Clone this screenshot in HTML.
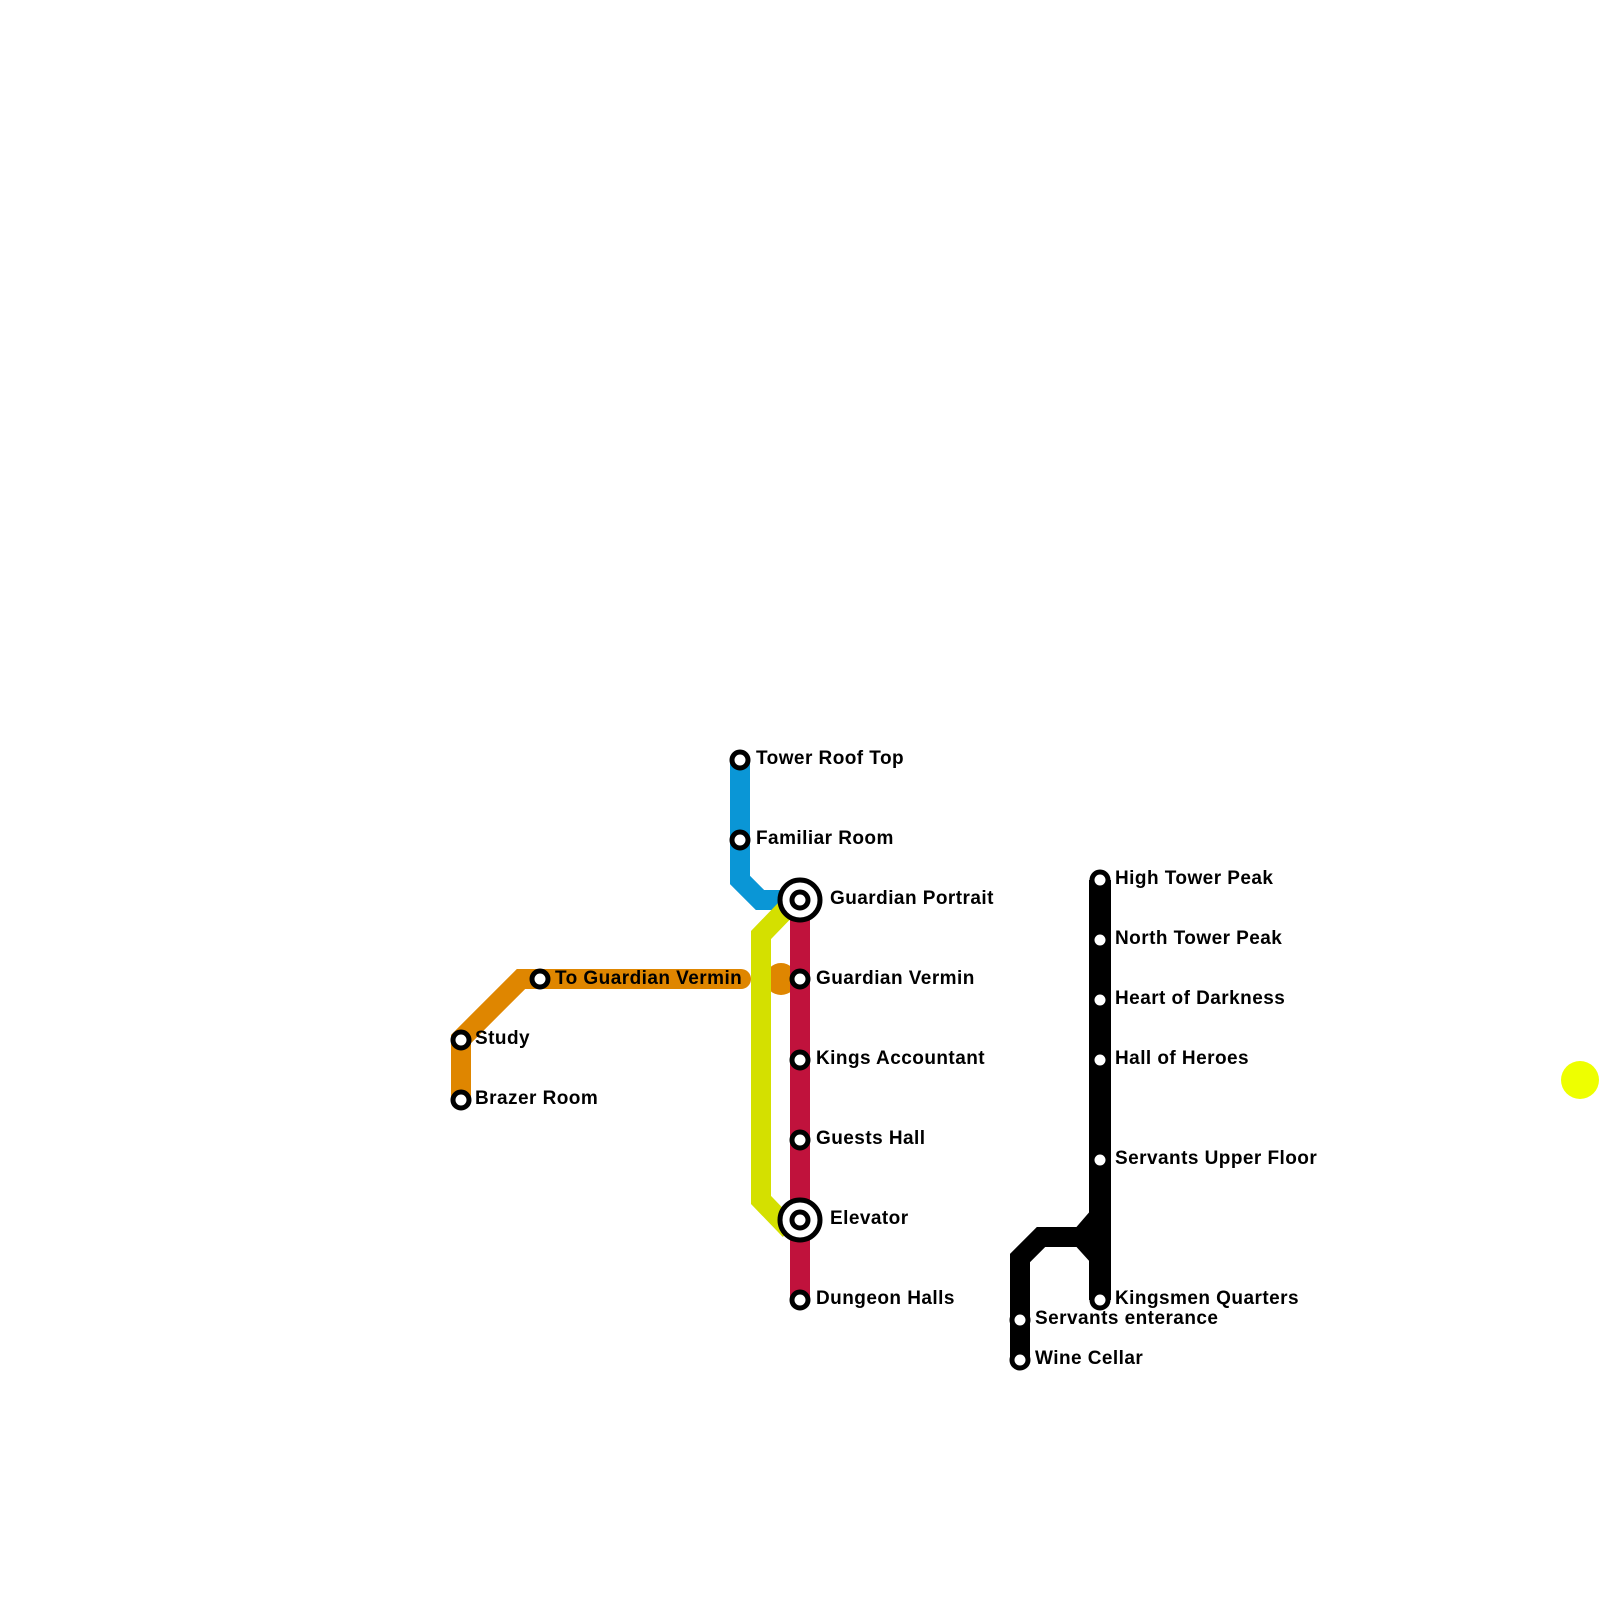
<!DOCTYPE html>
<html><head><meta charset="utf-8"><style>
html,body{margin:0;padding:0;background:#fff;}
svg{display:block;}
text{font-family:"Liberation Sans",sans-serif;font-weight:bold;font-size:19px;letter-spacing:0.45px;fill:#000;}
</style></head><body>
<svg width="1600" height="1600" viewBox="0 0 1600 1600">
<g fill="none" stroke-linejoin="miter">
<polyline points="461,1100 461,1039 521,979 741,979" stroke="#df8600" stroke-width="20" stroke-linecap="round"/>
<circle cx="781" cy="979" r="16" fill="#df8600"/>
<polyline points="740,760 740,880 760,900 800,900" stroke="#0a96d6" stroke-width="20"/>
<polyline points="790,905 761,935 761,1200 790,1230" stroke="#d4e000" stroke-width="20"/>
<line x1="800" y1="900" x2="800" y2="1300" stroke="#c0123c" stroke-width="20"/>
<line x1="1100" y1="880" x2="1100" y2="1300" stroke="#000" stroke-width="22"/>
<polyline points="1100,1215 1081,1237 1041,1237 1020,1258 1020,1360" stroke="#000" stroke-width="20"/>
<polyline points="1081,1237 1100,1258" stroke="#000" stroke-width="20"/>
</g>
<g fill="#fff" stroke="#000" stroke-width="5">
<circle cx="740" cy="760" r="8"/>
<circle cx="740" cy="840" r="8"/>
<circle cx="540" cy="979" r="8"/>
<circle cx="461" cy="1040" r="8"/>
<circle cx="461" cy="1100" r="8"/>
<circle cx="800" cy="979" r="8"/>
<circle cx="800" cy="1060" r="8"/>
<circle cx="800" cy="1140" r="8"/>
<circle cx="800" cy="1300" r="8"/>
<circle cx="1100" cy="880" r="8"/>
<circle cx="1100" cy="940" r="8"/>
<circle cx="1100" cy="1000" r="8"/>
<circle cx="1100" cy="1060" r="8"/>
<circle cx="1100" cy="1160" r="8"/>
<circle cx="1100" cy="1300" r="8"/>
<circle cx="1020" cy="1320" r="8"/>
<circle cx="1020" cy="1360" r="8"/>
<circle cx="800" cy="900" r="20"/>
<circle cx="800" cy="900" r="8"/>
<circle cx="800" cy="1220" r="20"/>
<circle cx="800" cy="1220" r="8"/>
</g>
<circle cx="1580" cy="1080" r="19" fill="#eeff00"/>
<text x="756" y="764">Tower Roof Top</text>
<text x="756" y="844">Familiar Room</text>
<text x="830" y="904">Guardian Portrait</text>
<text x="555" y="984">To Guardian Vermin</text>
<text x="816" y="984">Guardian Vermin</text>
<text x="475" y="1044">Study</text>
<text x="475" y="1104">Brazer Room</text>
<text x="816" y="1064">Kings Accountant</text>
<text x="816" y="1144">Guests Hall</text>
<text x="830" y="1224">Elevator</text>
<text x="816" y="1304">Dungeon Halls</text>
<text x="1115" y="884">High Tower Peak</text>
<text x="1115" y="944">North Tower Peak</text>
<text x="1115" y="1004">Heart of Darkness</text>
<text x="1115" y="1064">Hall of Heroes</text>
<text x="1115" y="1164">Servants Upper Floor</text>
<text x="1115" y="1304">Kingsmen Quarters</text>
<text x="1035" y="1324">Servants enterance</text>
<text x="1035" y="1364">Wine Cellar</text>
</svg>
</body></html>
